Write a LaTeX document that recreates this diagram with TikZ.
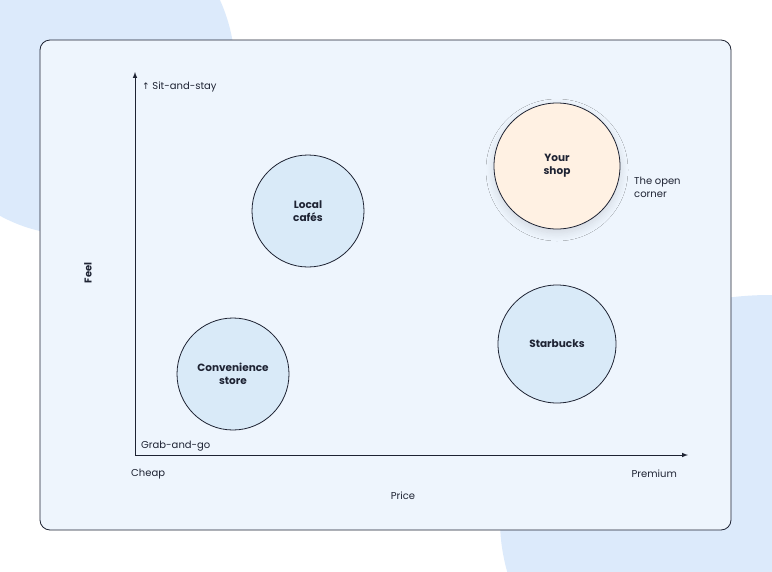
\documentclass[tikz,border=0pt]{standalone}
\usepackage{fontspec}
\setmainfont{Poppins}
\newfontfamily\symfont{DejaVu Sans}
\usetikzlibrary{shadows.blur}
\definecolor{ink}{HTML}{1E2333}
\definecolor{cardbg}{HTML}{EEF5FD}
\definecolor{blob}{HTML}{DCEAFB}
\definecolor{bubble}{HTML}{D9EAF8}
\definecolor{warm}{HTML}{FFF1E3}
\tikzset{bubblenode/.style = {circle, draw=ink, fill=bubble, line width=0.8pt, align=center,
                              font=\fontsize{10.5}{13}\selectfont\bfseries, text=ink}}
\tikzset{axislabel/.style = {font=\fontsize{10}{13}\selectfont, text=ink, inner sep=0}}
\begin{document}
\begin{tikzpicture}[x=1pt, y=-1pt]
      \useasboundingbox (0, 0) rectangle (772, 571);
      \fill [white] (0, 0) rectangle (772, 571);
      \fill [blob] (75, 70) ellipse [x radius=160, y radius=165];
      \fill [blob] (770, 520) ellipse [x radius=270, y radius=225];
      \draw [ink, fill=cardbg, rounded corners=10, line width=0.8pt] (40, 40) rectangle (731, 530);

      \node [bubblenode, minimum size=112] (cafes) at (308, 211) {Local\\caf\'es};
      \node [bubblenode, fill=warm, minimum size=126, blur shadow={shadow blur steps=10, shadow blur radius=8pt, shadow xshift=0, shadow yshift=-4, shadow opacity=12}] (shop) at (557, 166) {Your\\shop};
      \node [bubblenode, minimum size=118] (starbucks) at (557, 344) {Starbucks};
      \node [bubblenode, minimum size=112] (conv) at (233, 374) {Convenience\\store};

      \coordinate (origin) at (135, 455);
      \coordinate (ytop) at (135, 72);
      \coordinate (xend) at (688, 455);
      \draw [ink, line width=1pt, -latex] (origin) -- (ytop);
      \draw [ink, line width=1pt, -latex] (origin) -- (xend);

      \node [axislabel, anchor=west] (sit) at (142, 87) {{\symfont\fontsize{9}{10}\selectfont ↑} Sit-and-stay};
      \node [axislabel, anchor=west] (grab) at (141, 446) {Grab-and-go};
      \node [axislabel, anchor=west] (cheap) at (131, 474) {Cheap};
      \node [axislabel, anchor=east] (premium) at (677, 474) {Premium};
      \node [axislabel] (price) at (403, 496) {Price};
      \node [axislabel, font=\fontsize{10}{12}\selectfont\bfseries, rotate=90] (feel) at (88, 273) {Feel};
      \node [axislabel, anchor=west, align=left] (corner) at (634, 187) {The open\\corner};
    \end{tikzpicture}
\end{document}
